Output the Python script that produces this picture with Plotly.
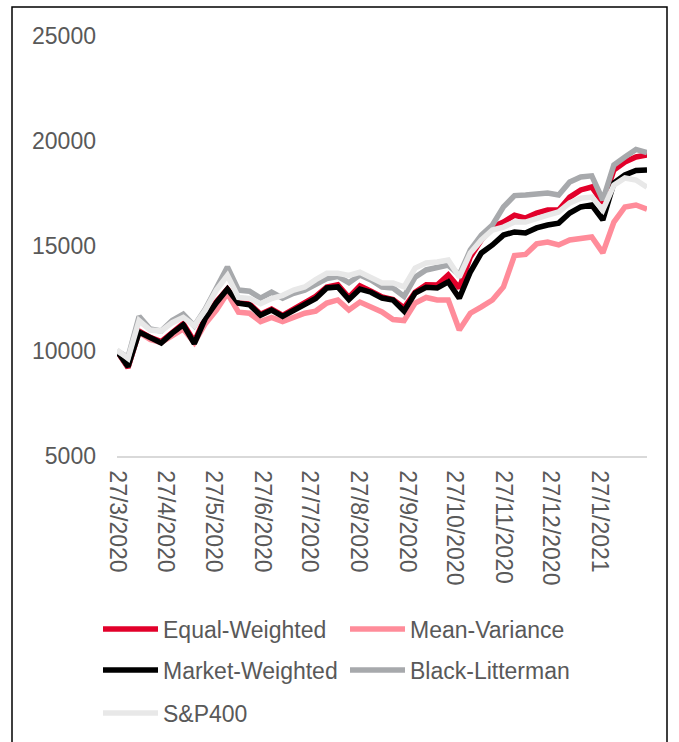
import pandas as pd
import plotly.graph_objects as go

# weekly index values (start = 10000)
dates = pd.date_range("2020-03-27", periods=49, freq="7D")

equal_weighted = [
    10000, 9200, 10950, 10650, 10450, 10900, 11300, 10450, 11600, 12350,
    12950, 12300, 12250, 11750, 12000, 11700, 12000, 12250, 12600, 13050,
    13150, 12550, 13100, 12850, 12570, 12450, 12050, 12800, 13150, 13140,
    13620, 13000, 14480, 15290, 15900, 16140, 16470, 16330, 16570, 16710,
    16710, 17330, 17670, 17810, 17050, 18620, 19000, 19240, 19330,
]
mean_variance = [
    10000, 9250, 10900, 10550, 10400, 10700, 11050, 10400, 11300, 11950,
    12750, 11850, 11800, 11400, 11600, 11400, 11600, 11800, 11900, 12280,
    12430, 11950, 12330, 12100, 11860, 11500, 11450, 12280, 12550, 12430,
    12430, 11000, 11800, 12100, 12430, 13050, 14550, 14600, 15100, 15190,
    15050, 15290, 15380, 15430, 14670, 16140, 16860, 16950, 16750,
]
market_weighted = [
    10000, 9250, 10900, 10650, 10380, 10850, 11250, 10350, 11550, 12300,
    12950, 12280, 12200, 11700, 11950, 11650, 11950, 12200, 12500, 13000,
    13050, 12450, 12950, 12800, 12520, 12430, 11900, 12760, 13030, 13000,
    13290, 12520, 13760, 14670, 15050, 15520, 15670, 15620, 15860, 16000,
    16090, 16570, 16860, 16950, 16240, 18000, 18380, 18600, 18620,
]
black_litterman = [
    10000, 9700, 11650, 11050, 10950, 11450, 11750, 11200, 12000, 13050,
    14000, 12900, 12850, 12520, 12800, 12520, 12750, 12900, 13200, 13450,
    13550, 13250, 13620, 13380, 13050, 13000, 12600, 13520, 13860, 13950,
    14090, 13620, 14810, 15520, 16000, 16860, 17400, 17430, 17480, 17520,
    17430, 18050, 18290, 18340, 17190, 18860, 19240, 19600, 19450,
]
sp400 = [
    10050, 9650, 11450, 11000, 10950, 11350, 11600, 11200, 11950, 12900,
    13600, 12550, 12500, 12250, 12500, 12650, 12900, 13050, 13400, 13700,
    13700, 13600, 13750, 13520, 13240, 13240, 13050, 13950, 14190, 14240,
    14330, 13520, 14670, 15290, 15760, 15900, 16140, 16140, 16330, 16470,
    16620, 17050, 17280, 17330, 16710, 17900, 18240, 18140, 17800,
]

series = [
    ("Equal-Weighted", equal_weighted, "#E2002A"),
    ("Mean-Variance", mean_variance, "#FF8C9A"),
    ("Market-Weighted", market_weighted, "#000000"),
    ("Black-Litterman", black_litterman, "#A7A9AC"),
    ("S&P400", sp400, "#E8E8E8"),
]

tick_dates = pd.to_datetime([
    "2020-03-27", "2020-04-27", "2020-05-27", "2020-06-27", "2020-07-27",
    "2020-08-27", "2020-09-27", "2020-10-27", "2020-11-27", "2020-12-27",
    "2021-01-27",
])
tick_text = [f"{d.day}/{d.month}/{d.year}" for d in tick_dates]

# plot area in pixels (679 x 742 canvas)
L, R, T, B = 117, 647, 36, 456
W, H = R - L, B - T


def px_x(px):
    return (px - L) / W


def px_y(py):
    return (B - py) / H


fig = go.Figure()
for name, values, color in series:
    fig.add_trace(
        go.Scatter(
            x=dates,
            y=values,
            name=name,
            mode="lines",
            line=dict(color=color, width=5.5),
            showlegend=False,
        )
    )

font = dict(family="Arial, Liberation Sans, sans-serif", size=23, color="#595959")

# legend drawn by hand: 2 columns, Excel-style long line samples
shapes = [
    dict(
        type="rect", xref="paper", yref="paper",
        x0=px_x(12), x1=px_x(667), y0=px_y(746), y1=px_y(7),
        line=dict(color="black", width=1.5),
    )
]
annotations = []
col_x = [103, 350]
row_y = [629, 670, 713]
for i, (name, _, color) in enumerate(series):
    x0 = col_x[i % 2]
    y0 = row_y[i // 2]
    shapes.append(
        dict(
            type="line", xref="paper", yref="paper",
            x0=px_x(x0), x1=px_x(x0 + 55), y0=px_y(y0), y1=px_y(y0),
            line=dict(color=color, width=5.5),
        )
    )
    annotations.append(
        dict(
            text=name, xref="paper", yref="paper",
            x=px_x(x0 + 58), y=px_y(y0 + 1),
            xanchor="left", yanchor="middle",
            showarrow=False, font=font,
        )
    )

fig.update_layout(
    width=679,
    height=742,
    margin=dict(l=L, r=679 - R, t=T, b=742 - B),
    plot_bgcolor="white",
    paper_bgcolor="white",
    font=font,
    showlegend=False,
    xaxis=dict(
        range=[dates[0], dates[-1]],
        tickvals=tick_dates,
        ticktext=tick_text,
        tickangle=90,
        showgrid=False,
        showline=True,
        linecolor="#D9D9D9",
        linewidth=1.5,
        ticks="",
        ticklabelstandoff=8,
        tickfont=font,
        automargin=False,
    ),
    yaxis=dict(
        range=[5000, 25000],
        tickvals=[5000, 10000, 15000, 20000, 25000],
        tickformat="d",
        showgrid=False,
        zeroline=False,
        showline=False,
        ticks="",
        ticklabelstandoff=20,
        tickfont=font,
        automargin=False,
    ),
    shapes=shapes,
    annotations=annotations,
)

fig.write_html(
    "out.html",
    config={"displayModeBar": False},
    post_script="document.body.style.margin='0';",
)
